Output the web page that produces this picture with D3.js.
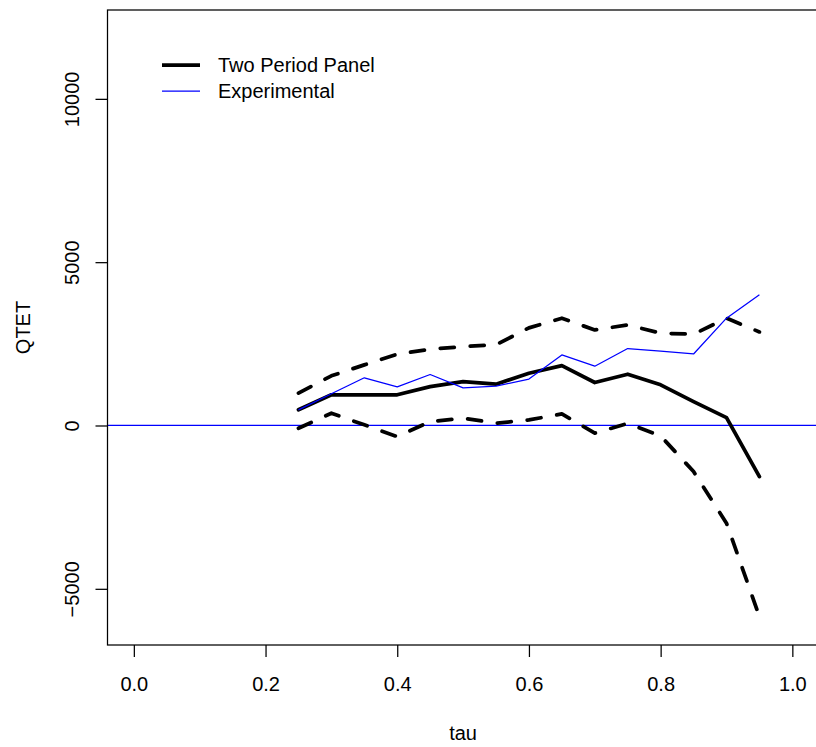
<!DOCTYPE html>
<html>
<head>
<meta charset="utf-8">
<script src="https://cdn.jsdelivr.net/npm/d3@7"></script>
<style>
  html, body { margin: 0; padding: 0; background: #fff; }
  svg { display: block; font-family: "Liberation Sans", Arial, Helvetica, sans-serif; }
</style>
</head>
<body>
<svg id="chart" width="816" height="747"></svg>
<script>
// Quantile grid
const tau = [0.25, 0.30, 0.35, 0.40, 0.45, 0.50, 0.55, 0.60, 0.65, 0.70, 0.75, 0.80, 0.85, 0.90, 0.95];

// QTET estimates: two period panel, with its confidence band, and the experimental benchmark
const panelQTET   = [480, 940, 940, 940, 1190, 1345, 1265, 1600, 1835, 1315, 1570, 1245, 730, 240, -1565];
const panelUpper  = [990, 1520, 1855, 2185, 2335, 2415, 2470, 2990, 3285, 2925, 3080, 2825, 2795, 3285, 2865];
const panelLower  = [-85, 375, 20, -340, 120, 225, 70, 170, 355, -235, 65, -320, -1410, -2990, -5850];
const experimental = [480, 970, 1460, 1180, 1560, 1150, 1205, 1420, 2160, 1815, 2355, 2280, 2190, 3285, 4000];

// Axis ticks and labels
const xTicks = [0.0, 0.2, 0.4, 0.6, 0.8, 1.0];
const yTicks = [-5000, 0, 5000, 10000];
const xLabel = "tau";
const yLabel = "QTET";
const legendLabels = ["Two Period Panel", "Experimental"];

(function draw() {
  const svg = d3.select("#chart");
  const FONT = 20;

  // Plot region (R-style 4% padding around the limits)
  const xlim = [0, 1], ylim = [-6000, 12000];
  const xpad = (xlim[1] - xlim[0]) * 0.04, ypad = (ylim[1] - ylim[0]) * 0.04;
  const pLeft = 107.5, pTop = 10, pBottom = 645;
  const unitX = 658.5;
  const pRight = pLeft + unitX * (xlim[1] - xlim[0] + 2 * xpad);

  const x = d3.scaleLinear().domain([xlim[0] - xpad, xlim[1] + xpad]).range([pLeft, pRight]);
  const y = d3.scaleLinear().domain([ylim[0] - ypad, ylim[1] + ypad]).range([pBottom, pTop]);

  svg.append("defs").append("clipPath").attr("id", "plotclip")
    .append("rect").attr("x", pLeft).attr("y", pTop)
    .attr("width", pRight - pLeft).attr("height", pBottom - pTop);

  const plot = svg.append("g").attr("clip-path", "url(#plotclip)");
  const line = d3.line().x((d, i) => x(tau[i])).y(d => y(d));

  // Zero reference line
  plot.append("line")
    .attr("x1", pLeft).attr("x2", pRight)
    .attr("y1", y(0)).attr("y2", y(0))
    .attr("stroke", "#0000ff").attr("stroke-width", 1.25);

  // Confidence band (dashed)
  [panelUpper, panelLower].forEach(s => {
    plot.append("path").datum(s)
      .attr("d", line)
      .attr("fill", "none").attr("stroke", "#000").attr("stroke-width", 3.75)
      .attr("stroke-dasharray", "14,16")
      .attr("stroke-linecap", "round").attr("stroke-linejoin", "round");
  });

  // Panel estimate
  plot.append("path").datum(panelQTET)
    .attr("d", line)
    .attr("fill", "none").attr("stroke", "#000").attr("stroke-width", 3.75)
    .attr("stroke-linecap", "round").attr("stroke-linejoin", "round");

  // Experimental estimate
  plot.append("path").datum(experimental)
    .attr("d", line)
    .attr("fill", "none").attr("stroke", "#0000ff").attr("stroke-width", 1.25)
    .attr("stroke-linejoin", "round");

  // Frame
  svg.append("rect")
    .attr("x", pLeft).attr("y", pTop).attr("width", pRight - pLeft).attr("height", pBottom - pTop)
    .attr("fill", "none").attr("stroke", "#000").attr("stroke-width", 1.25);

  // X axis
  const xAxis = svg.append("g").attr("transform", `translate(0,${pBottom})`)
    .call(d3.axisBottom(x).tickValues(xTicks).tickFormat(d3.format(".1f")).tickSize(12).tickSizeOuter(0));
  xAxis.select(".domain").remove();
  xAxis.selectAll(".tick line").attr("stroke", "#000").attr("stroke-width", 1.25);
  xAxis.selectAll(".tick text")
    .attr("y", 46).attr("dy", null)
    .attr("font-size", FONT).attr("fill", "#000")
    .attr("font-family", "Liberation Sans, Arial, sans-serif");

  // Y axis
  const yAxis = svg.append("g").attr("transform", `translate(${pLeft},0)`)
    .call(d3.axisLeft(y).tickValues(yTicks)
      .tickFormat(d => d < 0 ? "\u2212" + Math.abs(d) : String(d))
      .tickSize(12).tickSizeOuter(0));
  yAxis.select(".domain").remove();
  yAxis.selectAll(".tick line").attr("stroke", "#000").attr("stroke-width", 1.25);
  yAxis.selectAll(".tick text")
    .attr("x", null).attr("dy", null)
    .attr("transform", "translate(-29,0) rotate(-90)")
    .attr("text-anchor", "middle")
    .attr("font-size", FONT).attr("fill", "#000")
    .attr("font-family", "Liberation Sans, Arial, sans-serif");

  // Axis titles
  svg.append("text")
    .attr("x", (pLeft + pRight) / 2).attr("y", 740)
    .attr("text-anchor", "middle").attr("font-size", FONT).text(xLabel);
  svg.append("text")
    .attr("transform", `translate(30,${(pTop + pBottom) / 2}) rotate(-90)`)
    .attr("text-anchor", "middle").attr("font-size", FONT).text(yLabel);

  // Legend
  const legendStyles = [
    { color: "#000", width: 3.75 },
    { color: "#0000ff", width: 1.25 }
  ];
  const legendY = [65, 91];
  const lg = svg.append("g");
  legendLabels.forEach((lab, i) => {
    lg.append("line")
      .attr("x1", 162).attr("x2", 200)
      .attr("y1", legendY[i]).attr("y2", legendY[i])
      .attr("stroke", legendStyles[i].color).attr("stroke-width", legendStyles[i].width);
    lg.append("text")
      .attr("x", 218).attr("y", legendY[i] + 7)
      .attr("font-size", FONT).attr("fill", "#000").text(lab);
  });
})();
</script>
</body>
</html>
